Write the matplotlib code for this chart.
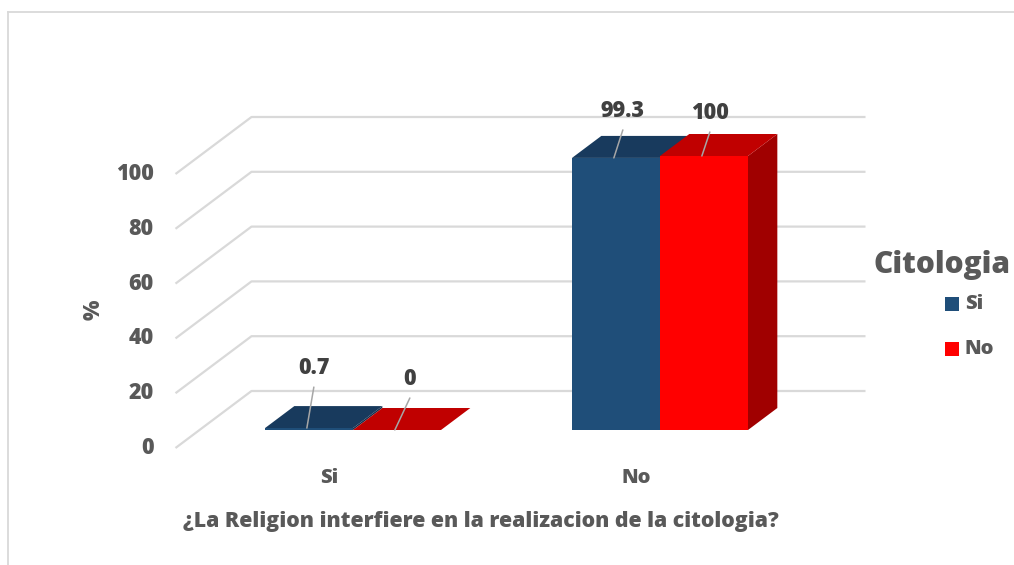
import matplotlib
matplotlib.use("Agg")
import matplotlib.pyplot as plt
from matplotlib.patches import Polygon, Rectangle
from matplotlib.lines import Line2D

# ---------------- data ----------------
categories = ["Si", "No"]
series_names = ["Si", "No"]
si_values = [0.7, 99.3]
no_values = [0, 100]
y_ticks = [0, 20, 40, 60, 80, 100]
x_title = "¿La Religion interfiere en la realizacion de la citologia?"
y_title = "%"
legend_title = "Citologia"

# ---------------- style ----------------
FONT = "Open Sans"
WEIGHT = "heavy"
TXT = "#595959"
GRID = "#D9D9D9"
front_colors = ["#1F4E79", "#FF0000"]
top_colors = ["#183A5D", "#C00000"]
side_colors = ["#15314F", "#A00000"]
# leader line end offsets (pixels) per series per category
label_offsets = [[(7, 41), (9, 28)], [(15, 32), (8, 24)]]

W, H = 1014, 565
fig = plt.figure(figsize=(W / 100, H / 100), dpi=100)
ax = fig.add_axes([0, 0, 1, 1])

# pixel mapping of the bar plane
X0_PX, X_SCALE = 353, 307.0
Y0_PX, Y_SCALE = 430, 2.74
ax.set_xlim(-X0_PX / X_SCALE, (W - X0_PX) / X_SCALE)
ax.set_ylim((Y0_PX - H) / Y_SCALE, Y0_PX / Y_SCALE)
ax.axis("off")

# oblique depth projection
DX, DY = 76 / X_SCALE, 57 / Y_SCALE
D_FRONT, D_BACK, D_BAR = -18 / 57, 39 / 57, 22 / 57
XL, XR = -0.5, len(categories) - 0.5
BAR_W = 88 / X_SCALE


def proj(x, v, d):
    return (x + d * DX, v + d * DY)


# chart border
fig.add_artist(Line2D([8 / W, 1], [1 - 12 / H, 1 - 12 / H], transform=fig.transFigure,
                      color=GRID, lw=1.3))
fig.add_artist(Line2D([8 / W, 8 / W], [0, 1 - 12 / H], transform=fig.transFigure,
                      color=GRID, lw=1.3))

# gridlines (left wall + back wall)
for t in y_ticks:
    p0 = proj(XL, t, D_FRONT)
    p1 = proj(XL, t, D_BACK)
    p2 = proj(XR, t, D_BACK)
    ax.plot([p0[0], p1[0], p2[0]], [p0[1], p1[1], p2[1]], color=GRID, lw=1.6,
            solid_capstyle="butt", zorder=1)
    ax.annotate(str(t), xy=p0, xytext=(-22, 0), textcoords="offset pixels",
                ha="right", va="center", fontsize=15.5, fontweight=WEIGHT,
                color=TXT, family=FONT)

# bars
series = [si_values, no_values]
for ci in range(len(categories)):
    for si, vals in enumerate(series):
        v = vals[ci]
        x0 = ci - BAR_W + si * BAR_W
        x1 = x0 + BAR_W
        side = [proj(x1, 0, 0), proj(x1, 0, D_BAR), proj(x1, v, D_BAR), proj(x1, v, 0)]
        top = [proj(x0, v, 0), proj(x1, v, 0), proj(x1, v, D_BAR), proj(x0, v, D_BAR)]
        front = [proj(x0, 0, 0), proj(x1, 0, 0), proj(x1, v, 0), proj(x0, v, 0)]
        z = 3 + ci * 10 + si * 3
        ax.add_patch(Polygon(side, closed=True, fc=side_colors[si], ec="none", zorder=z))
        ax.add_patch(Polygon(top, closed=True, fc=top_colors[si], ec="none", zorder=z + 1))
        ax.add_patch(Polygon(front, closed=True, fc=front_colors[si], ec="none", zorder=z + 2))

        # data label with leader line
        anchor = proj((x0 + x1) / 2 - 0.007, v, 0)
        odx, ody = label_offsets[si][ci]
        ax.annotate("", xy=anchor, xytext=(odx, ody), textcoords="offset pixels",
                    arrowprops=dict(arrowstyle="-", color="#A6A6A6", lw=1.1,
                                    shrinkA=0, shrinkB=0), zorder=40)
        ax.annotate(f"{v:g}", xy=anchor, xytext=(odx, ody + 19), textcoords="offset pixels",
                    ha="center", va="center", fontsize=15.5, fontweight=WEIGHT,
                    color="#404040", family=FONT, zorder=41)

# category labels (front plane)
for ci, c in enumerate(categories):
    p = proj(ci, 0, D_FRONT)
    ax.annotate(c, xy=p, xytext=(0, -30), textcoords="offset pixels",
                ha="center", va="center", fontsize=14.5, fontweight=WEIGHT,
                color=TXT, family=FONT)

# axis titles
fig.text(481 / W, 1 - 521 / H, x_title, ha="center", va="center", fontsize=15.3,
         fontweight=WEIGHT, color=TXT, family=FONT)
fig.text(94 / W, 1 - 310 / H, y_title, ha="center", va="center", fontsize=15.5,
         fontweight=WEIGHT, color=TXT, family=FONT, rotation=90)

# legend
fig.text(942 / W, 1 - 265 / H, legend_title, ha="center", va="center", fontsize=21.5,
         fontweight=WEIGHT, color=TXT, family=FONT)
for si, name in enumerate(series_names):
    yc = 304 + si * 45
    fig.add_artist(Rectangle((945 / W, 1 - (yc + 7) / H), 14 / W, 14 / H,
                             transform=fig.transFigure, fc=front_colors[si], ec="none"))
    fig.text(965 / W, 1 - yc / H, name, ha="left", va="center", fontsize=14.5,
             fontweight=WEIGHT, color=TXT, family=FONT)

fig.savefig("out.png", dpi=100)
